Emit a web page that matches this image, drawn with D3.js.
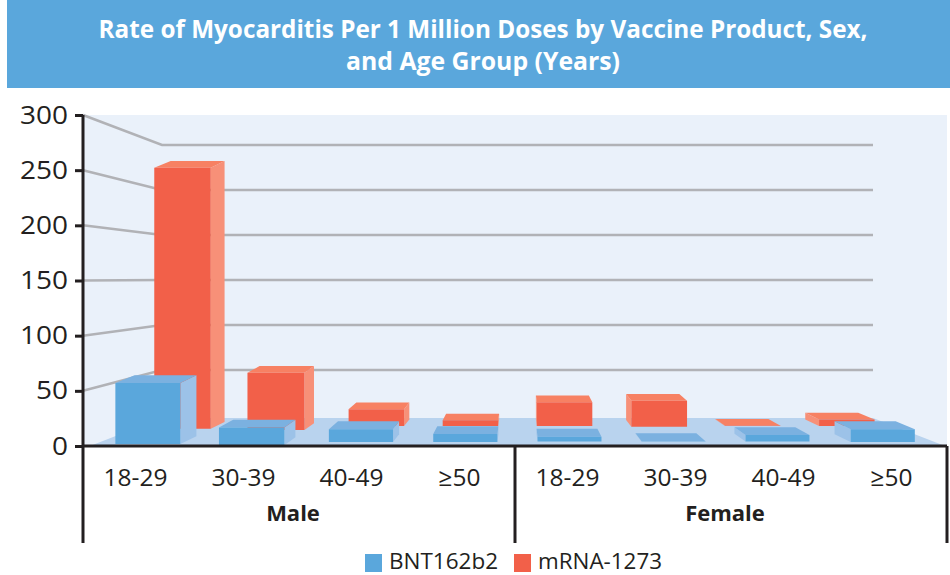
<!DOCTYPE html>
<html>
<head>
<meta charset="utf-8">
<script src="https://cdn.jsdelivr.net/npm/d3@7"></script>
<style>
  html, body { margin: 0; padding: 0; background: #fff; }
  svg { display: block; }
  text { font-family: "Open Sans", sans-serif; fill: #231f20; }
</style>
</head>
<body>
<script>
var titleLines = ["Rate of Myocarditis Per 1 Million Doses by Vaccine Product, Sex,", "and Age Group (Years)"];
var ageGroups = ["18-29", "30-39", "40-49", "≥50", "18-29", "30-39", "40-49", "≥50"];
var sexes = ["Male", "Female"];
var yTicks = [0, 50, 100, 150, 200, 250, 300];
var seriesNames = ["BNT162b2", "mRNA-1273"];
var bntValues = [56, 16, 12, 7.5, 4.5, 0.3, 6, 12];
var mrnaValues = [267, 58, 17.6, 6, 25, 27, 0.5, 7];

// how far back each box stands on the floor, 0 = front edge, 1 = back wall
var bntDepth = [0.07, 0.03, 0.14, 0.14, 0.16, 0.16, 0.16, 0.14];
var mrnaDepth = [0.62, 0.57, 0.71, 0.71, 0.71, 0.69, 0.71, 0.71];

var width = 950, height = 575;
var colors = {
  bnt: {front: "#5aa7dc", top: "#7bb1e0", side: "#9cc2e8"},
  mrna: {front: "#f26049", top: "#f78163", side: "#f79078"}
};

var svg = d3.select("body").append("svg").attr("width", width).attr("height", height);

svg.append("rect").attr("x", 7).attr("y", 0).attr("width", 943).attr("height", 88).attr("fill", "#5aa7dc");
svg.selectAll(".title").data(titleLines).enter().append("text")
  .attr("class", "title")
  .attr("x", 483)
  .attr("y", (d, i) => 38 + i * 32)
  .attr("text-anchor", "middle")
  .attr("textLength", (d, i) => i == 0 ? 769 : 274)
  .attr("lengthAdjust", "spacingAndGlyphs")
  .style("font-size", "25px").style("font-weight", 700).style("fill", "#fff")
  .text(d => d);

// wall and floor
var yFront = d3.scaleLinear().domain([0, 300]).range([446, 115]);
var yBack = d3.scaleLinear().domain([0, 300]).range([415, 145]);
var floorY = d3.scaleLinear().domain([0, 1]).range([446, 418]);
var floorLeft = d3.scaleLinear().domain([0, 1]).range([90, 162]);
var floorRight = d3.scaleLinear().domain([0, 1]).range([945, 873]);
var pxPerUnit = d3.scaleLinear().domain([0, 1]).range([yFront(0) - yFront(1), yBack(0) - yBack(1)]);
var band = d3.scaleBand().domain(d3.range(ageGroups.length)).range([0, 1]);
var line = d3.line();
function poly(pts) { return line(pts) + "Z"; }

svg.append("rect").attr("x", 83).attr("y", 115).attr("width", 864).attr("height", 331).attr("fill", "#eaf1fa");
svg.append("path").attr("fill", "#b9d3ee")
  .attr("d", poly([[floorLeft(0), floorY(0)], [floorLeft(1), floorY(1)], [floorRight(1), floorY(1)], [floorRight(0), floorY(0)]]));

svg.selectAll(".grid").data(yTicks.slice(1)).enter().append("polyline")
  .attr("class", "grid")
  .attr("fill", "none").attr("stroke", "#b1b2b6").attr("stroke-width", 2.5)
  .attr("points", d => [[83, yFront(d)], [floorLeft(1), yBack(d)], [floorRight(1), yBack(d)]].join(" "));

// one box: front, far side and top faces
function boxes(values, depths, widthShare, boxDepth, c) {
  return values.map(function(v, i) {
    var d = depths[i], db = d + boxDepth;
    var mid = band(i) + band.bandwidth() / 2;
    var w = band.bandwidth() * widthShare / 2;
    var f0 = mid - w, f1 = mid + w;
    var px = (f, dd) => floorLeft(dd) + f * (floorRight(dd) - floorLeft(dd));
    var base = floorY(d), shift = floorY(d) - floorY(db);
    var top = base - v * pxPerUnit(d);
    var sideF = mid < 0.5 ? f1 : f0;
    return {
      c: c,
      side: [[px(sideF, d), base], [px(sideF, db), base - shift], [px(sideF, db), top - shift], [px(sideF, d), top]],
      top: [[px(f0, d), top], [px(f0, db), top - shift], [px(f1, db), top - shift], [px(f1, d), top]],
      front: [[px(f0, d), base], [px(f0, d), top], [px(f1, d), top], [px(f1, d), base]]
    };
  });
}

var allBoxes = boxes(mrnaValues, mrnaDepth, 0.59, 0.24, colors.mrna)
  .concat(boxes(bntValues, bntDepth, 0.615, 0.28, colors.bnt));

var g = svg.selectAll(".box").data(allBoxes).enter().append("g").attr("class", "box");
g.append("path").attr("fill", d => d.c.side).attr("d", d => poly(d.side));
g.append("path").attr("fill", d => d.c.top).attr("d", d => poly(d.top));
g.append("path").attr("fill", d => d.c.front).attr("d", d => poly(d.front));

// axes
var yAxis = d3.axisLeft(yFront).tickValues(yTicks).tickSize(8).tickPadding(7);
var axisG = svg.append("g").attr("transform", "translate(83,0)").call(yAxis);
axisG.select(".domain").remove();
axisG.selectAll("line").attr("stroke", "#231f20").attr("stroke-width", 3);
axisG.selectAll("text")
  .attr("textLength", d => String(d).length * 16)
  .attr("lengthAdjust", "spacingAndGlyphs")
  .style("font-size", "25px").style("font-family", '"Open Sans", sans-serif').attr("fill", "#231f20");

var xBand = d3.scaleBand().domain(d3.range(ageGroups.length)).range([83, 947]);
var frame = [[83, 115, 83, 543], [83, 446, 947, 446], [xBand(4), 446, xBand(4), 543], [947, 446, 947, 543]];
svg.selectAll(".frame").data(frame).enter().append("line")
  .attr("class", "frame")
  .attr("x1", d => d[0]).attr("y1", d => d[1]).attr("x2", d => d[2]).attr("y2", d => d[3])
  .attr("stroke", "#231f20").attr("stroke-width", 3);

svg.selectAll(".age").data(ageGroups).enter().append("text")
  .attr("class", "age")
  .attr("x", (d, i) => xBand(i) + xBand.bandwidth() / 2 - 1.5)
  .attr("y", 486)
  .attr("text-anchor", "middle")
  .style("font-size", "24.5px")
  .text(d => d);

svg.selectAll(".sex").data(sexes).enter().append("text")
  .attr("class", "sex")
  .attr("x", (d, i) => xBand(i * 4) + xBand.bandwidth() * 2 - 6)
  .attr("y", 521)
  .attr("text-anchor", "middle")
  .style("font-size", "22px").style("font-weight", 700)
  .text(d => d);

// legend
var legendX = [365, 514];
var legendLen = [109, 124];
var legend = svg.selectAll(".legend").data(seriesNames).enter().append("g")
  .attr("class", "legend")
  .attr("transform", (d, i) => "translate(" + legendX[i] + ",554)");
legend.append("rect").attr("width", 17).attr("height", 18)
  .attr("fill", (d, i) => i == 0 ? colors.bnt.front : colors.mrna.front);
legend.append("text").attr("x", 24).attr("y", 15)
  .attr("textLength", (d, i) => legendLen[i])
  .attr("lengthAdjust", "spacingAndGlyphs")
  .style("font-size", "22px")
  .text(d => d);
</script>
</body>
</html>
